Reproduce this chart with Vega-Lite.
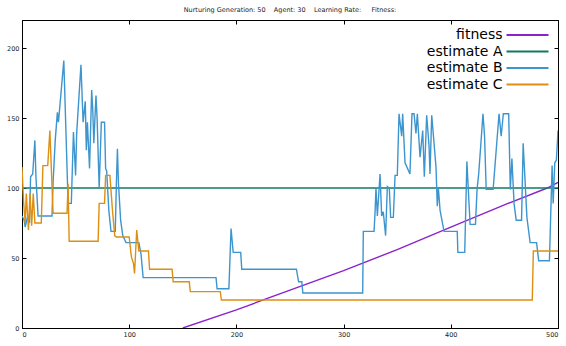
{
  "$schema": "https://vega.github.io/schema/vega-lite/v6.json",
  "width": 536,
  "height": 308,
  "autosize": {"type": "none"},
  "padding": {"left": 22, "top": 20, "right": 8, "bottom": 18},
  "title": {"text": "Nurturing Generation: 50\u00a0\u00a0\u00a0\u00a0Agent: 30\u00a0\u00a0\u00a0\u00a0Learning Rate:\u00a0\u00a0\u00a0\u00a0\u00a0Fitness:", "fontSize": 6.5, "fontWeight": "normal", "font": "DejaVu Sans", "color": "#222222", "offset": 6, "anchor": "middle"},
  "config": {
    "view": {"stroke": "black", "strokeWidth": 1},
    "axis": {"grid": false, "domainColor": "black", "tickColor": "black", "labelColor": "#222222", "labelFont": "DejaVu Sans", "labelFontSize": 6.5, "tickSize": -4, "labelPadding": 7, "title": null}
  },
  "data": {"values": [
    {"g": "fitness", "x": 150, "y": 0}, {"g": "fitness", "x": 200, "y": 13}, {"g": "fitness", "x": 250, "y": 27}, {"g": "fitness", "x": 300, "y": 41}, {"g": "fitness", "x": 350, "y": 56}, {"g": "fitness", "x": 400, "y": 72}, {"g": "fitness", "x": 450, "y": 88}, {"g": "fitness", "x": 490, "y": 100}, {"g": "fitness", "x": 500, "y": 104},
    {"g": "estimate A", "x": 0, "y": 100}, {"g": "estimate A", "x": 500, "y": 100},
    {"g": "estimate B", "x": 0, "y": 80}, {"g": "estimate B", "x": 2, "y": 77}, {"g": "estimate B", "x": 3, "y": 72}, {"g": "estimate B", "x": 5, "y": 79}, {"g": "estimate B", "x": 7, "y": 75}, {"g": "estimate B", "x": 8, "y": 108}, {"g": "estimate B", "x": 10, "y": 110}, {"g": "estimate B", "x": 12, "y": 134}, {"g": "estimate B", "x": 13, "y": 108}, {"g": "estimate B", "x": 15, "y": 80}, {"g": "estimate B", "x": 28, "y": 80}, {"g": "estimate B", "x": 29, "y": 104}, {"g": "estimate B", "x": 31, "y": 134}, {"g": "estimate B", "x": 33, "y": 154}, {"g": "estimate B", "x": 34, "y": 147}, {"g": "estimate B", "x": 39, "y": 191}, {"g": "estimate B", "x": 41, "y": 140}, {"g": "estimate B", "x": 43, "y": 89}, {"g": "estimate B", "x": 46, "y": 89}, {"g": "estimate B", "x": 48, "y": 140}, {"g": "estimate B", "x": 50, "y": 109}, {"g": "estimate B", "x": 51, "y": 139}, {"g": "estimate B", "x": 55, "y": 188}, {"g": "estimate B", "x": 57, "y": 147}, {"g": "estimate B", "x": 59, "y": 162}, {"g": "estimate B", "x": 60, "y": 127}, {"g": "estimate B", "x": 61, "y": 147}, {"g": "estimate B", "x": 63, "y": 114}, {"g": "estimate B", "x": 65, "y": 170}, {"g": "estimate B", "x": 66, "y": 156}, {"g": "estimate B", "x": 67, "y": 132}, {"g": "estimate B", "x": 69, "y": 166}, {"g": "estimate B", "x": 70, "y": 151}, {"g": "estimate B", "x": 72, "y": 100}, {"g": "estimate B", "x": 74, "y": 147}, {"g": "estimate B", "x": 77, "y": 147}, {"g": "estimate B", "x": 78, "y": 114}, {"g": "estimate B", "x": 79, "y": 112}, {"g": "estimate B", "x": 81, "y": 84}, {"g": "estimate B", "x": 83, "y": 69}, {"g": "estimate B", "x": 87, "y": 69}, {"g": "estimate B", "x": 88, "y": 102}, {"g": "estimate B", "x": 89, "y": 128}, {"g": "estimate B", "x": 90, "y": 103}, {"g": "estimate B", "x": 92, "y": 77}, {"g": "estimate B", "x": 94, "y": 66}, {"g": "estimate B", "x": 97, "y": 61}, {"g": "estimate B", "x": 109, "y": 61}, {"g": "estimate B", "x": 111, "y": 53}, {"g": "estimate B", "x": 113, "y": 36}, {"g": "estimate B", "x": 181, "y": 36}, {"g": "estimate B", "x": 182, "y": 28}, {"g": "estimate B", "x": 193, "y": 28}, {"g": "estimate B", "x": 195, "y": 71}, {"g": "estimate B", "x": 197, "y": 54}, {"g": "estimate B", "x": 204, "y": 54}, {"g": "estimate B", "x": 205, "y": 42}, {"g": "estimate B", "x": 256, "y": 42}, {"g": "estimate B", "x": 258, "y": 33}, {"g": "estimate B", "x": 261, "y": 33}, {"g": "estimate B", "x": 262, "y": 25}, {"g": "estimate B", "x": 317.8, "y": 25}, {"g": "estimate B", "x": 318.4, "y": 69}, {"g": "estimate B", "x": 328.4, "y": 69}, {"g": "estimate B", "x": 329.3, "y": 82}, {"g": "estimate B", "x": 330.2, "y": 100}, {"g": "estimate B", "x": 331.5, "y": 80}, {"g": "estimate B", "x": 334, "y": 110}, {"g": "estimate B", "x": 335.5, "y": 80}, {"g": "estimate B", "x": 337, "y": 83}, {"g": "estimate B", "x": 339.2, "y": 66}, {"g": "estimate B", "x": 340.8, "y": 101}, {"g": "estimate B", "x": 342.6, "y": 100}, {"g": "estimate B", "x": 343.9, "y": 79}, {"g": "estimate B", "x": 346.4, "y": 79}, {"g": "estimate B", "x": 348, "y": 109}, {"g": "estimate B", "x": 350.1, "y": 109}, {"g": "estimate B", "x": 351.7, "y": 153}, {"g": "estimate B", "x": 354.2, "y": 137}, {"g": "estimate B", "x": 355.1, "y": 153}, {"g": "estimate B", "x": 357.3, "y": 118}, {"g": "estimate B", "x": 361.9, "y": 110}, {"g": "estimate B", "x": 363.8, "y": 153}, {"g": "estimate B", "x": 365.7, "y": 153}, {"g": "estimate B", "x": 367.5, "y": 139}, {"g": "estimate B", "x": 368.8, "y": 153}, {"g": "estimate B", "x": 371.3, "y": 122}, {"g": "estimate B", "x": 373.8, "y": 141}, {"g": "estimate B", "x": 375.3, "y": 108}, {"g": "estimate B", "x": 377.5, "y": 152}, {"g": "estimate B", "x": 379.7, "y": 130}, {"g": "estimate B", "x": 380.6, "y": 110}, {"g": "estimate B", "x": 382.2, "y": 152}, {"g": "estimate B", "x": 386.2, "y": 115}, {"g": "estimate B", "x": 387.4, "y": 87}, {"g": "estimate B", "x": 388.4, "y": 100}, {"g": "estimate B", "x": 390, "y": 84}, {"g": "estimate B", "x": 393.7, "y": 69}, {"g": "estimate B", "x": 406, "y": 69}, {"g": "estimate B", "x": 406.6, "y": 54}, {"g": "estimate B", "x": 413, "y": 54}, {"g": "estimate B", "x": 415, "y": 119}, {"g": "estimate B", "x": 418, "y": 74}, {"g": "estimate B", "x": 423, "y": 74}, {"g": "estimate B", "x": 424.5, "y": 99}, {"g": "estimate B", "x": 426, "y": 110}, {"g": "estimate B", "x": 428, "y": 131}, {"g": "estimate B", "x": 430, "y": 153}, {"g": "estimate B", "x": 431.5, "y": 137}, {"g": "estimate B", "x": 433, "y": 99}, {"g": "estimate B", "x": 439.5, "y": 99}, {"g": "estimate B", "x": 445, "y": 153}, {"g": "estimate B", "x": 447, "y": 137}, {"g": "estimate B", "x": 449, "y": 153}, {"g": "estimate B", "x": 454, "y": 153}, {"g": "estimate B", "x": 455.5, "y": 99}, {"g": "estimate B", "x": 457, "y": 121}, {"g": "estimate B", "x": 459, "y": 89}, {"g": "estimate B", "x": 461, "y": 77}, {"g": "estimate B", "x": 466, "y": 77}, {"g": "estimate B", "x": 467.5, "y": 132}, {"g": "estimate B", "x": 471, "y": 79}, {"g": "estimate B", "x": 474, "y": 61}, {"g": "estimate B", "x": 480, "y": 61}, {"g": "estimate B", "x": 482, "y": 48}, {"g": "estimate B", "x": 492, "y": 48}, {"g": "estimate B", "x": 494.5, "y": 116}, {"g": "estimate B", "x": 495.5, "y": 89}, {"g": "estimate B", "x": 497, "y": 118}, {"g": "estimate B", "x": 498.5, "y": 120}, {"g": "estimate B", "x": 500, "y": 141},
    {"g": "estimate C", "x": 0, "y": 115}, {"g": "estimate C", "x": 1.5, "y": 90}, {"g": "estimate C", "x": 3, "y": 75}, {"g": "estimate C", "x": 4, "y": 96}, {"g": "estimate C", "x": 6, "y": 70}, {"g": "estimate C", "x": 7.5, "y": 96}, {"g": "estimate C", "x": 9, "y": 73}, {"g": "estimate C", "x": 10.5, "y": 96}, {"g": "estimate C", "x": 12, "y": 75}, {"g": "estimate C", "x": 18, "y": 75}, {"g": "estimate C", "x": 19.5, "y": 116}, {"g": "estimate C", "x": 24, "y": 116}, {"g": "estimate C", "x": 26, "y": 141}, {"g": "estimate C", "x": 29, "y": 82}, {"g": "estimate C", "x": 42, "y": 82}, {"g": "estimate C", "x": 43, "y": 103}, {"g": "estimate C", "x": 44, "y": 62}, {"g": "estimate C", "x": 71, "y": 62}, {"g": "estimate C", "x": 72, "y": 89}, {"g": "estimate C", "x": 77, "y": 89}, {"g": "estimate C", "x": 78, "y": 109}, {"g": "estimate C", "x": 82, "y": 109}, {"g": "estimate C", "x": 84.5, "y": 83}, {"g": "estimate C", "x": 86.5, "y": 66}, {"g": "estimate C", "x": 88, "y": 65}, {"g": "estimate C", "x": 100, "y": 65}, {"g": "estimate C", "x": 102, "y": 51}, {"g": "estimate C", "x": 104, "y": 46}, {"g": "estimate C", "x": 105, "y": 39}, {"g": "estimate C", "x": 107, "y": 70}, {"g": "estimate C", "x": 109, "y": 55}, {"g": "estimate C", "x": 118, "y": 55}, {"g": "estimate C", "x": 119, "y": 42}, {"g": "estimate C", "x": 140, "y": 42}, {"g": "estimate C", "x": 141, "y": 33}, {"g": "estimate C", "x": 156, "y": 33}, {"g": "estimate C", "x": 157, "y": 26}, {"g": "estimate C", "x": 185, "y": 26}, {"g": "estimate C", "x": 186, "y": 20}, {"g": "estimate C", "x": 476, "y": 20}, {"g": "estimate C", "x": 477, "y": 55}, {"g": "estimate C", "x": 500, "y": 55}
  ]},
  "layer": [
    {
      "mark": {"type": "line", "strokeWidth": 1.4, "clip": true},
      "encoding": {
        "x": {"field": "x", "type": "quantitative", "scale": {"domain": [0, 500], "nice": false, "zero": false}, "axis": {"orient": "bottom", "values": [0, 100, 200, 300, 400, 500]}},
        "y": {"field": "y", "type": "quantitative", "scale": {"domain": [0, 220], "nice": false}, "axis": {"orient": "left", "values": [0, 50, 100, 150, 200]}},
        "color": {
          "field": "g", "type": "nominal",
          "scale": {"domain": ["fitness", "estimate A", "estimate B", "estimate C"], "range": ["#8b22cc", "#0f7a62", "#3d95cf", "#dc8f12"]},
          "legend": {"orient": "none", "legendX": 497.5, "legendY": 7, "title": null, "symbolType": "M-3,0H3", "symbolSize": 196, "symbolStrokeWidth": 2, "labelFont": "DejaVu Sans", "labelFontSize": 14, "labelColor": "black", "labelAlign": "right", "labelOffset": -33, "rowPadding": 1.5, "padding": 0}
        }
      }
    },
    {
      "mark": {"type": "line", "strokeOpacity": 0},
      "encoding": {
        "x": {"field": "x", "type": "quantitative", "axis": {"orient": "top", "values": [0, 100, 200, 300, 400, 500], "labels": false}},
        "y": {"field": "y", "type": "quantitative", "axis": {"orient": "right", "values": [0, 50, 100, 150, 200], "labels": false}}
      }
    }
  ],
  "resolve": {"axis": {"x": "independent", "y": "independent"}}
}
